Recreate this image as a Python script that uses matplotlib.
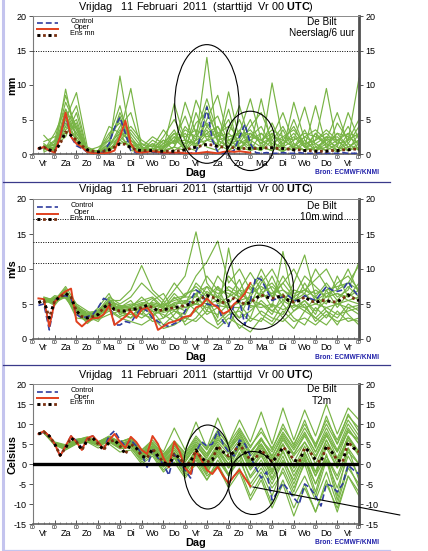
import numpy as np
import matplotlib
matplotlib.use('Agg')
import matplotlib.pyplot as plt
from matplotlib.patches import Ellipse
from matplotlib.lines import Line2D

plt.rcParams['font.family'] = ['Liberation Sans', 'DejaVu Sans']
plt.rcParams['mathtext.fontset'] = 'custom'
plt.rcParams['mathtext.rm'] = 'Liberation Sans'
plt.rcParams['mathtext.bf'] = 'Liberation Sans:bold'
plt.rcParams['axes.unicode_minus'] = False

# ---------------- data ----------------
DAYS = ['Vr', 'Za', 'Zo', 'Ma', 'Di', 'Wo', 'Do', 'Vr', 'Za', 'Zo', 'Ma', 'Di', 'Wo', 'Do', 'Vr']
DAY_EDGES = list(range(0, 361, 24))
TITLE = r'Vrijdag   11 Februari  2011  (starttijd  Vr 00 $\mathbf{UTC}$)'
LEGEND_NAMES = ['Control', 'Oper', 'Ens mn']

# Precipitation (mm / 6h), 6-hourly from +6h
precip_control = [0.7, 1.0, 0.5, 0.3, 2.5, 5.6, 2.5, 1.2, 0.8, 0.3, 0.1, 0.1, 0.3, 1.5, 3.8, 5.3, 3.0, 0.5, 0.2, 0.2,
                  0.3, 0.3, 0.2, 0.1, 0.1, 0.1, 0.1, 0.1, 0.1, 0.3, 3.0, 6.8, 2.0, 0.3, 0.1, 0.2, 0.5, 2.5, 4.3, 1.5,
                  0.2, 0.1, 0.2, 0.1, 0.1, 0.2, 0.1, 0.1, 0.2, 0.1, 0.1, 0.1, 0.2, 0.1, 0.1, 0.1, 0.2, 0.1, 0.1, 0.1]
precip_oper = [0.8, 1.0, 0.5, 0.2, 2.5, 6.0, 2.5, 1.5, 1.0, 0.3, 0.1, 0.1, 0.1, 0.2, 0.5, 2.5, 4.8, 1.5, 0.3, 0.2,
               0.3, 0.4, 0.3, 0.2, 0.2, 0.2, 0.2, 0.1, 0.1, 0.1, 0.2, 0.3, 0.2, 0.1, 0.3, 0.4, 0.3, 0.4, 0.3, 0.2]
precip_mean = [0.8, 1.0, 0.6, 0.4, 1.5, 3.2, 2.7, 2.0, 1.2, 0.6, 0.4, 0.3, 0.4, 0.6, 1.0, 1.5, 1.4, 0.9, 0.6, 0.5,
               0.5, 0.5, 0.4, 0.4, 0.4, 0.4, 0.5, 0.6, 0.8, 1.0, 1.2, 1.4, 1.3, 1.1, 1.0, 1.0, 0.9, 0.8, 0.8, 0.8,
               0.8, 0.8, 0.9, 0.9, 0.8, 0.8, 0.7, 0.6, 0.6, 0.5, 0.5, 0.4, 0.4, 0.4, 0.5, 0.5, 0.6, 0.6, 0.7, 0.7]
# members, 12-hourly from +12h
precip_members = [
    [1.0, 0.5, 9.4, 2.0, 0.3, 0.1, 0.5, 2.0, 1.0, 0.3, 0.5, 0.3, 1.0, 0.5, 2.0, 14.0, 1.5, 0.5, 2.0, 1.0, 0.5, 3.0, 1.0, 0.5, 2.0, 0.5, 1.0, 0.3, 1.0, 2.0],
    [0.8, 2.0, 8.5, 3.5, 0.5, 0.2, 1.0, 11.3, 2.0, 0.5, 0.3, 1.0, 3.0, 1.0, 0.5, 2.0, 4.0, 1.5, 0.5, 2.5, 4.0, 1.0, 0.3, 1.5, 0.5, 3.0, 1.0, 2.0, 0.5, 1.0],
    [1.5, 0.3, 5.0, 8.9, 1.0, 0.3, 0.2, 3.0, 9.5, 1.0, 0.5, 0.8, 7.3, 2.0, 1.0, 3.0, 1.0, 9.0, 2.0, 0.5, 1.0, 0.5, 2.0, 4.0, 1.0, 0.5, 2.5, 0.5, 3.0, 0.5],
    [2.7, 1.0, 4.0, 7.0, 0.4, 0.5, 3.0, 4.5, 1.0, 0.2, 1.5, 0.5, 1.0, 7.5, 3.0, 1.0, 0.5, 2.0, 3.0, 8.0, 2.0, 1.0, 3.5, 0.5, 1.5, 2.0, 9.5, 1.0, 0.5, 3.0],
    [0.5, 3.0, 6.5, 2.5, 0.5, 1.0, 2.0, 5.0, 3.0, 1.0, 0.3, 2.0, 0.5, 1.5, 7.8, 4.0, 2.0, 1.0, 5.0, 1.0, 0.5, 10.3, 2.0, 1.0, 0.5, 1.0, 2.0, 6.0, 1.5, 0.5],
    [1.2, 0.8, 3.5, 5.0, 0.3, 0.3, 1.5, 6.0, 2.5, 0.5, 2.0, 1.0, 2.5, 0.5, 3.0, 8.0, 3.0, 0.5, 1.5, 4.0, 6.0, 2.0, 0.5, 7.5, 2.0, 0.5, 1.5, 0.5, 2.0, 11.0],
    [0.6, 1.5, 7.5, 4.0, 0.2, 0.5, 0.5, 2.5, 4.0, 2.0, 1.0, 3.5, 1.5, 3.0, 1.0, 5.0, 8.5, 2.0, 1.0, 0.5, 3.0, 1.5, 1.0, 2.0, 6.8, 1.0, 0.5, 1.5, 4.0, 1.0],
    [1.0, 0.5, 5.5, 3.0, 0.8, 0.2, 1.0, 3.5, 1.5, 0.5, 0.8, 0.5, 2.0, 1.0, 4.5, 6.0, 2.5, 5.0, 1.0, 2.0, 1.0, 0.5, 1.5, 3.0, 1.0, 7.0, 1.0, 3.0, 1.0, 2.0],
    [0.3, 1.0, 4.5, 2.0, 0.5, 0.5, 2.5, 7.0, 1.0, 1.5, 0.5, 2.5, 5.0, 2.0, 1.5, 3.5, 1.0, 3.0, 7.0, 1.5, 0.5, 2.0, 4.0, 1.0, 3.5, 0.5, 2.0, 1.0, 6.0, 2.0],
    [1.8, 2.5, 3.0, 4.5, 0.2, 0.3, 0.5, 1.5, 2.0, 0.5, 1.5, 0.5, 1.0, 4.0, 2.0, 7.0, 2.0, 1.0, 3.5, 1.0, 8.0, 1.0, 0.5, 1.0, 2.5, 1.5, 0.5, 4.5, 2.0, 5.0],
    [0.9, 0.6, 6.0, 1.5, 0.3, 0.2, 4.0, 3.0, 0.5, 0.3, 0.5, 1.5, 3.5, 0.5, 6.0, 2.0, 1.5, 6.5, 0.5, 3.0, 1.5, 4.5, 1.0, 5.0, 1.0, 3.0, 1.5, 0.5, 1.5, 4.0],
    [1.1, 1.2, 2.5, 6.0, 0.3, 0.4, 1.0, 4.0, 6.0, 0.8, 0.3, 0.8, 2.0, 5.5, 1.0, 4.0, 5.5, 1.5, 2.0, 5.0, 1.0, 2.5, 6.0, 1.5, 0.5, 2.0, 3.5, 2.0, 0.5, 1.5],
    [0.7, 1.8, 5.0, 3.0, 0.4, 0.3, 1.5, 3.0, 2.0, 1.0, 2.5, 1.5, 3.0, 2.5, 3.5, 2.5, 3.0, 4.0, 2.5, 3.0, 2.0, 3.5, 2.5, 2.0, 3.0, 2.5, 1.5, 3.0, 2.5, 1.5],
    [1.3, 0.7, 4.0, 2.5, 0.3, 0.2, 0.8, 2.0, 3.5, 1.5, 1.0, 2.0, 1.5, 3.5, 2.5, 4.5, 2.0, 2.5, 3.0, 2.0, 3.0, 1.5, 2.5, 3.5, 1.5, 2.0, 3.0, 1.5, 2.0, 3.0],
    [0.9, 1.4, 3.0, 4.0, 0.5, 0.4, 2.0, 5.5, 1.5, 0.8, 1.2, 0.8, 2.5, 1.5, 2.0, 3.0, 4.0, 1.0, 2.5, 3.5, 1.5, 2.5, 2.0, 1.0, 2.5, 3.5, 2.0, 2.5, 1.0, 2.0],
    [1.1, 0.9, 6.5, 3.5, 0.6, 0.2, 1.2, 2.5, 1.0, 0.6, 0.8, 1.2, 1.8, 2.0, 1.5, 2.0, 2.5, 3.0, 1.5, 2.5, 2.0, 3.0, 1.5, 2.5, 1.0, 1.5, 2.5, 2.0, 3.0, 2.5],
]

# 10 m wind (m/s)
wind_control = [4.8, 5.0, 1.3, 5.5, 6.0, 6.2, 5.8, 3.5, 3.0, 3.2, 3.5, 4.5, 5.8, 5.5, 2.0, 2.0, 2.5, 2.3, 3.5, 4.5,
                4.0, 3.0, 2.5, 2.0, 1.8, 2.2, 2.5, 4.0, 5.5, 7.0, 6.5, 5.0, 4.8, 4.8, 2.5, 1.8, 5.0, 5.5, 2.0, 5.5,
                8.8, 8.5, 7.0, 5.5, 5.8, 6.0, 6.2, 5.5, 5.5, 6.2, 5.8, 5.5, 6.5, 7.5, 7.0, 6.8, 7.0, 8.2, 7.0, 6.0]
wind_oper = [5.8, 5.7, 1.8, 5.3, 6.2, 6.8, 7.2, 2.5, 1.8, 2.5, 3.0, 3.0, 3.5, 4.8, 2.0, 2.6, 3.2, 4.0, 3.0, 4.2,
             4.5, 3.5, 1.3, 1.8, 2.3, 2.5, 2.8, 3.2, 3.3, 4.5, 4.8, 5.8, 5.0, 4.5, 3.6, 4.0, 5.0, 5.6, 6.5, 8.0]
wind_mean = [5.2, 5.5, 3.0, 5.5, 6.0, 6.5, 6.0, 4.0, 3.2, 3.0, 3.2, 3.5, 4.5, 5.0, 4.2, 4.0, 4.0, 4.2, 4.3, 4.5,
             4.8, 4.5, 4.0, 4.2, 4.3, 4.5, 4.6, 4.8, 5.0, 5.5, 5.8, 6.2, 6.0, 5.5, 5.2, 5.5, 5.8, 5.3, 5.0, 5.2,
             5.8, 6.3, 6.0, 5.8, 6.0, 6.2, 5.5, 5.3, 5.5, 6.0, 5.5, 5.2, 5.5, 5.5, 5.3, 5.3, 5.8, 6.3, 5.8, 5.5]
wind_members = [
    [5.8, 5.0, 7.0, 4.5, 3.5, 4.0, 6.0, 5.0, 6.0, 8.0, 6.5, 5.0, 7.0, 9.0, 15.3, 8.0, 6.0, 9.0, 7.0, 5.0, 8.0, 10.0, 7.0, 6.0, 9.0, 7.5, 6.0, 8.0, 9.0, 7.0],
    [5.0, 6.0, 6.0, 3.5, 2.5, 3.0, 4.0, 3.0, 2.5, 2.0, 3.0, 1.5, 2.0, 3.0, 4.0, 2.5, 1.5, 3.0, 2.0, 1.0, 3.0, 2.0, 4.0, 2.5, 3.0, 2.0, 3.5, 2.5, 3.0, 2.5],
    [6.0, 5.5, 7.5, 5.0, 4.0, 3.0, 5.5, 5.5, 7.0, 10.5, 7.0, 5.5, 8.0, 6.0, 9.0, 11.0, 14.0, 8.0, 10.0, 7.0, 9.0, 6.0, 8.0, 10.0, 7.0, 8.5, 10.0, 7.0, 8.0, 10.5],
    [5.2, 5.8, 6.2, 3.0, 2.8, 4.5, 6.5, 3.5, 3.0, 5.0, 4.0, 2.0, 3.5, 5.5, 4.0, 6.0, 3.0, 13.0, 5.0, 3.0, 7.0, 4.5, 12.5, 5.0, 4.0, 6.0, 4.0, 3.0, 5.0, 4.0],
    [5.6, 4.8, 6.8, 4.2, 3.2, 2.5, 4.5, 4.5, 5.5, 3.5, 5.5, 6.5, 4.0, 3.5, 6.5, 4.0, 7.5, 4.0, 3.0, 6.5, 10.0, 7.0, 5.0, 8.0, 12.0, 6.0, 5.0, 9.0, 6.0, 8.0],
    [5.4, 5.3, 6.5, 4.8, 3.6, 3.8, 5.2, 4.2, 4.0, 4.5, 3.5, 4.0, 6.0, 4.5, 5.0, 7.5, 5.0, 6.0, 8.5, 4.5, 5.0, 3.5, 6.5, 4.0, 5.5, 3.5, 7.0, 4.5, 6.5, 5.5],
    [5.9, 5.6, 7.2, 3.8, 2.6, 3.2, 4.8, 3.8, 3.5, 4.0, 5.0, 3.0, 5.0, 2.0, 3.0, 5.0, 2.5, 4.0, 1.5, 3.0, 2.5, 5.0, 3.0, 1.5, 4.0, 3.0, 2.0, 4.0, 2.5, 3.0],
    [5.3, 5.7, 6.7, 4.3, 3.3, 4.2, 5.5, 4.8, 4.5, 6.0, 4.5, 5.0, 4.5, 6.5, 7.0, 5.5, 9.0, 7.0, 6.0, 8.0, 6.0, 9.0, 5.5, 7.0, 6.5, 10.0, 7.5, 5.5, 7.5, 6.0],
    [5.5, 5.2, 6.0, 4.0, 2.2, 3.5, 4.2, 3.2, 3.8, 3.0, 4.0, 3.5, 2.5, 4.0, 5.5, 3.5, 4.5, 2.0, 4.5, 6.0, 3.5, 2.5, 5.0, 3.0, 2.0, 4.5, 3.0, 5.5, 3.5, 2.0],
    [5.7, 5.4, 6.4, 4.6, 3.4, 3.6, 5.0, 4.4, 4.8, 5.5, 6.0, 4.5, 6.5, 5.0, 8.0, 6.5, 6.0, 5.0, 7.0, 9.5, 7.0, 8.0, 6.0, 5.0, 8.0, 5.5, 6.5, 7.0, 10.0, 6.5],
    [5.1, 5.9, 6.3, 4.1, 3.1, 2.8, 3.5, 4.0, 3.0, 4.0, 2.5, 3.0, 4.0, 3.0, 2.5, 4.0, 3.5, 5.0, 3.0, 4.0, 5.5, 4.0, 3.5, 6.0, 4.5, 3.0, 4.5, 3.5, 4.0, 4.5],
    [5.6, 5.1, 6.9, 4.4, 3.0, 3.4, 4.6, 4.6, 5.0, 4.8, 5.2, 4.8, 5.5, 6.0, 6.0, 9.0, 7.0, 6.5, 5.5, 6.0, 8.5, 6.0, 9.0, 6.5, 7.0, 6.0, 8.0, 6.0, 7.0, 11.0],
    [5.0, 6.2, 5.8, 3.8, 2.8, 3.0, 5.8, 3.5, 4.5, 3.5, 3.0, 5.5, 3.0, 2.5, 4.5, 5.5, 2.0, 3.5, 4.0, 2.5, 4.0, 3.0, 2.5, 4.0, 5.0, 2.5, 4.0, 2.0, 4.5, 3.5],
    [5.8, 5.5, 7.0, 4.6, 3.8, 4.0, 5.3, 4.7, 4.3, 5.0, 5.8, 4.2, 5.2, 5.5, 5.0, 6.8, 5.8, 7.5, 6.5, 5.5, 6.5, 7.5, 6.0, 5.5, 6.5, 5.0, 6.0, 6.5, 5.5, 6.0],
    [5.4, 5.6, 6.6, 4.4, 3.4, 3.8, 5.0, 4.3, 4.6, 5.2, 5.0, 4.6, 5.8, 6.2, 7.5, 6.0, 7.5, 6.0, 7.0, 6.5, 7.5, 6.5, 8.0, 6.0, 7.0, 6.5, 7.0, 7.5, 8.0, 7.0],
    [5.5, 5.2, 6.2, 4.2, 3.1, 3.3, 4.4, 3.9, 4.1, 4.2, 4.3, 3.8, 4.2, 4.5, 5.0, 4.5, 4.8, 4.5, 5.2, 4.8, 4.5, 5.0, 4.2, 4.8, 4.5, 5.0, 4.5, 5.0, 4.5, 4.8],
    [5.3, 5.4, 6.7, 4.0, 3.0, 3.6, 4.9, 4.5, 4.4, 4.7, 4.8, 4.4, 5.0, 5.2, 6.5, 7.5, 6.5, 7.0, 6.0, 7.5, 6.0, 6.5, 7.0, 5.5, 6.0, 7.0, 6.0, 6.5, 6.0, 7.0],
    [5.6, 5.3, 6.3, 4.5, 3.2, 3.5, 4.5, 4.1, 4.3, 4.4, 4.6, 4.0, 4.8, 4.0, 5.5, 5.0, 5.5, 4.5, 4.5, 5.5, 5.0, 4.0, 5.5, 4.5, 5.5, 4.0, 5.5, 5.0, 5.5, 5.0],
]

# 2 m temperature (Celsius)
t2m_control = [7.5, 8.0, 7.0, 5.0, 2.0, 4.5, 7.0, 5.8, 4.0, 6.5, 7.0, 5.5, 3.8, 7.0, 8.3, 6.0, 4.5, 6.0, 4.5, 2.5,
               -0.8, 3.5, 1.5, 0.0, -2.8, 2.5, 0.5, -1.5, -3.5, 3.0, 5.6, 4.5, 5.0, 8.3, 5.0, 3.0, 2.0, 6.0, 5.0, 2.0,
               -1.0, -3.5, -2.0, -9.0, -7.0, -4.8, -6.5, -8.5, -10.0, -5.0, -6.0, -8.0, -10.5, -5.0, -5.5, -7.0, -5.0, -0.3, -1.5, -2.5]
t2m_oper = [7.5, 8.2, 7.0, 5.0, 2.0, 4.5, 7.0, 5.5, 3.5, 6.5, 7.0, 5.5, 3.8, 6.0, 7.5, 5.5, 4.0, 6.8, 5.5, 3.5,
            2.5, 7.0, 5.0, 1.5, -0.8, 5.6, 3.0, -1.0, -2.5, 3.2, 1.0, -1.5, -2.5, -0.7, -3.0, -4.8, -3.0, -1.5, -3.5, -5.5]
t2m_mean = [7.5, 8.0, 7.0, 5.0, 2.2, 4.0, 6.5, 5.5, 3.5, 6.0, 6.5, 5.0, 3.5, 5.5, 6.0, 4.5, 2.5, 5.0, 4.0, 2.0,
            1.5, 3.8, 2.0, 0.5, -0.5, 2.5, 1.5, -0.5, 0.5, 3.5, 1.5, 0.5, 1.0, 4.5, 3.0, 2.0, 3.0, 5.0, 3.0, 1.0,
            1.5, 3.5, 2.0, 0.5, 2.0, 4.2, 3.0, 1.0, 0.5, 4.0, 3.0, 1.0, 0.5, 4.5, 3.0, 1.0, 0.5, 5.5, 4.0, 3.0]
t2m_members = [
    [8.2, 5.3, 4.5, 6.0, 6.8, 5.5, 7.0, 5.5, 6.5, 3.5, 5.5, 2.5, 5.5, 2.5, 6.5, 3.5, 8.0, 5.0, 9.0, 4.5, 8.0, 4.0, 9.0, 5.0, 10.0, 5.0, 11.0, 6.0, 12.0, 9.0],
    [8.0, 4.8, 3.5, 5.0, 5.5, 4.0, 5.0, 3.0, 3.5, 0.0, 2.0, -2.0, 0.5, -3.5, 0.0, -4.0, 1.0, -3.0, 1.0, -5.0, -1.0, -6.0, -2.0, -8.0, -3.0, -9.0, -2.0, -10.0, -1.0, -5.0],
    [7.8, 5.2, 4.2, 5.8, 6.2, 5.5, 6.5, 5.0, 6.0, 3.0, 4.5, 1.5, 4.5, 1.5, 5.5, 2.5, 7.0, 4.0, 6.5, 2.0, 5.0, 1.0, 6.0, 2.0, 5.5, 1.5, 7.0, 3.0, 8.0, 6.0],
    [8.1, 4.9, 3.8, 5.2, 5.8, 4.5, 5.5, 4.0, 4.0, 1.0, 3.0, -0.5, 2.0, -2.0, 2.0, -2.5, 3.0, -1.0, 2.5, -3.0, 1.0, -4.0, 1.0, -4.0, 2.5, -2.0, 4.0, -1.0, 6.0, 2.0],
    [8.3, 5.5, 4.8, 6.2, 6.5, 5.2, 6.3, 4.8, 5.8, 2.8, 5.0, 2.0, 5.0, 1.0, 4.0, -1.0, 2.0, -3.0, 2.0, -6.0, -2.0, -8.0, -1.0, -7.0, 1.0, -5.0, 2.0, -3.0, 4.0, 0.0],
    [7.9, 5.0, 4.0, 5.5, 6.0, 5.0, 6.5, 5.5, 6.5, 3.5, 6.0, 3.0, 9.0, 3.5, 10.5, 4.0, 11.5, 5.0, 11.0, 5.5, 13.0, 5.0, 14.0, 6.0, 13.5, 7.0, 15.0, 7.5, 14.0, 11.0],
    [8.0, 5.1, 4.1, 5.4, 5.7, 4.8, 5.5, 3.8, 4.2, 0.5, 2.5, -1.5, 1.5, -3.0, 1.0, -4.0, 0.0, -5.0, -1.0, -8.0, -3.0, -10.0, -4.0, -11.0, -5.0, -12.0, -4.0, -12.0, -3.0, -7.0],
    [8.2, 4.9, 4.3, 5.7, 6.3, 5.3, 6.2, 4.7, 5.3, 2.3, 4.0, 0.8, 3.5, 0.5, 4.5, 1.5, 6.0, 3.5, 7.5, 3.0, 6.0, 2.0, 7.5, 3.5, 8.0, 3.0, 9.0, 3.5, 10.0, 6.0],
    [7.7, 4.7, 3.7, 5.1, 5.6, 4.6, 5.8, 4.2, 4.6, 1.5, 3.2, 0.0, 2.0, -1.5, 2.5, -1.0, 3.5, 0.0, 4.0, -1.5, 2.0, -2.5, 3.0, -2.0, 3.0, -3.0, 5.0, -1.0, 7.0, 3.0],
    [8.1, 5.2, 4.4, 5.9, 6.4, 5.4, 6.6, 5.2, 5.7, 2.5, 4.3, 1.0, 2.5, -1.5, 1.5, -3.0, -0.5, -6.0, -2.0, -9.0, -4.0, -11.0, -5.0, -13.0, -6.0, -12.0, -5.0, -11.0, -3.0, -8.0],
    [8.0, 5.0, 3.9, 5.3, 6.1, 5.1, 6.1, 4.4, 5.1, 1.8, 3.6, 0.2, 3.5, 0.5, 4.5, 2.0, 5.5, 2.5, 6.0, 1.0, 5.0, 0.5, 6.5, 2.5, 7.0, 2.0, 7.5, 1.5, 8.5, 5.0],
    [7.9, 4.8, 4.2, 5.6, 5.9, 4.9, 5.7, 4.3, 4.7, 1.2, 2.8, -0.8, 1.5, -2.5, 2.5, -1.5, 4.0, 0.0, 5.0, -0.5, 4.0, -1.5, 5.0, -1.0, 4.5, -2.0, 6.0, 0.0, 7.0, 2.0],
    [8.3, 5.4, 4.6, 6.1, 6.6, 5.6, 6.8, 5.6, 6.2, 3.2, 5.2, 2.2, 5.8, 2.8, 7.0, 3.8, 8.5, 4.5, 8.0, 3.0, 6.5, 1.5, 5.0, -1.0, 3.0, -3.0, 2.0, -4.0, 3.0, 0.0],
    [7.8, 4.9, 4.0, 5.4, 5.9, 4.9, 6.0, 4.6, 4.9, 2.0, 3.9, 0.6, 2.5, -1.0, 3.0, -0.5, 4.5, 1.5, 5.0, 0.0, 3.0, -2.0, 3.5, -3.0, 2.0, -5.0, 1.0, -6.0, 2.0, -3.0],
    [8.0, 5.1, 4.3, 5.5, 6.1, 5.0, 6.2, 4.7, 5.2, 2.2, 4.2, 1.2, 4.5, 1.8, 5.0, 1.0, 3.5, -1.0, 4.0, 0.5, 6.0, 3.0, 8.0, 4.0, 9.0, 4.5, 10.0, 5.0, 11.0, 7.0],
    [8.1, 5.0, 4.1, 5.6, 6.0, 5.1, 5.9, 4.5, 5.0, 1.7, 3.5, 0.3, 3.0, -0.5, 3.5, 0.0, 4.5, 1.0, 4.5, -1.0, 2.5, -3.5, 2.0, -5.0, 1.5, -7.0, 2.5, -8.0, 4.0, -4.0],
    [8.0, 5.1, 4.2, 5.6, 6.1, 5.1, 6.2, 4.8, 5.4, 2.4, 4.4, 1.2, 4.0, 1.0, 5.0, 2.0, 6.5, 3.0, 7.0, 2.5, 6.5, 2.0, 7.0, 2.5, 7.5, 3.0, 8.0, 3.0, 9.0, 5.0],
    [7.9, 5.0, 4.0, 5.4, 5.9, 4.9, 5.9, 4.4, 4.9, 1.9, 3.7, 0.4, 2.8, -0.8, 3.5, 0.5, 5.0, 1.0, 5.5, 0.5, 4.5, 0.0, 5.0, 0.5, 5.5, 0.0, 6.0, 1.0, 6.5, 3.0],
    [8.1, 5.2, 4.4, 5.8, 6.3, 5.3, 6.4, 5.0, 5.6, 2.6, 4.6, 1.6, 5.0, 2.0, 6.0, 2.5, 7.5, 3.5, 8.5, 4.0, 9.0, 3.5, 10.0, 4.5, 11.0, 4.0, 12.0, 5.0, 12.5, 8.0],
    [8.0, 4.9, 4.0, 5.3, 5.8, 4.8, 5.8, 4.3, 4.8, 1.6, 3.4, -0.2, 2.5, -1.2, 2.0, -2.0, 2.5, -2.5, 3.0, -3.5, 0.0, -5.0, 0.5, -6.0, 0.0, -8.0, 1.0, -9.0, 0.0, -6.0],
]

# ---------------- style ----------------
C_MEMBER = '#78b445'
C_CONTROL = '#2f3c9e'
C_OPER = '#e0401e'
C_MEAN = '#7a3010'

W, H = 428, 551
fig = plt.figure(figsize=(W / 100, H / 100), dpi=100)
fig.patch.set_facecolor('white')

PX = 0.72  # points per pixel


def panel(rect, members, ctrl, oper, mean, ylim, yticks, ylabel, name2, hlines, ellipses,
          leg_y, zero_line=False, extra_line=None, ylabel_x=-0.047):
    ax = fig.add_axes(rect)
    hm = 12 * np.arange(1, len(members[0]) + 1)
    for m in members:
        ax.plot(hm, m, color=C_MEMBER, lw=0.85, zorder=2)
    h6c = 6 * np.arange(1, len(ctrl) + 1)
    h6o = 6 * np.arange(1, len(oper) + 1)
    h6m = 6 * np.arange(1, len(mean) + 1)
    ax.plot(h6c, ctrl, color=C_CONTROL, lw=1.2, dashes=(3.5, 1.8), zorder=4)
    ax.plot(h6o, oper, color=C_OPER, lw=1.4, zorder=5)
    ax.plot(h6m, mean, color=C_MEAN, lw=2.0, dashes=(1, 1), zorder=6)
    ax.plot(h6m, mean, color='black', lw=2.0, dashes=(1, 3), zorder=6)
    for y in hlines:
        ax.axhline(y, color='black', lw=0.7, dashes=(1, 1.5), zorder=3)
    if zero_line:
        ax.axhline(0, color='black', lw=2.4, zorder=7)

    ax.set_xlim(0, 360)
    ax.set_ylim(*ylim)
    ax.set_yticks(yticks)
    ax.tick_params(axis='y', which='both', direction='out', length=3, width=0.7,
                   labelsize=6.5, left=True, right=True, labelleft=True, labelright=True,
                   pad=1.5, color='#555555')
    ax.set_xticks(DAY_EDGES)
    ax.set_xticklabels(['00'] * len(DAY_EDGES))
    ax.set_xticks(np.arange(0, 361, 6), minor=True)
    ax.tick_params(axis='x', which='major', direction='in', length=3, width=0.7,
                   labelsize=3.6, pad=0.8, color='#555555')
    ax.tick_params(axis='x', which='minor', direction='in', length=1.5, width=0.5, color='#555555')
    ax.spines['left'].set_color('#7a7a7a'); ax.spines['left'].set_linewidth(0.8)
    ax.spines['right'].set_color('#505050'); ax.spines['right'].set_linewidth(2.0)
    ax.spines['top'].set_color('#8a8a8a'); ax.spines['top'].set_linewidth(0.7)
    ax.spines['bottom'].set_color('#606060'); ax.spines['bottom'].set_linewidth(1.2)

    for i, d in enumerate(DAYS):
        ax.annotate(d, xy=(12 + 24 * i, 0), xycoords=('data', 'axes fraction'),
                    xytext=(0, -9 * PX), textcoords='offset points',
                    ha='center', va='center', fontsize=6.6)
    ax.annotate('Dag', xy=(0.5, 0), xycoords='axes fraction', xytext=(0, -18.5 * PX),
                textcoords='offset points', ha='center', va='center', fontsize=7.8,
                fontweight='bold')
    ax.annotate('Bron: ECMWF/KNMI', xy=(0.962, 0), xycoords='axes fraction',
                xytext=(0, -18.5 * PX), textcoords='offset points', ha='center', va='center',
                fontsize=4.8, fontweight='bold', color='#2222aa')
    ax.annotate(TITLE, xy=(0.5, 1), xycoords='axes fraction', xytext=(0, 9.5 * PX),
                textcoords='offset points', ha='center', va='center', fontsize=7.8)
    ax.set_ylabel(ylabel, fontsize=7.8, fontweight='bold', labelpad=0)
    ax.yaxis.set_label_coords(ylabel_x, 0.5)

    ax.text(0.885, leg_y[3], 'De Bilt', transform=ax.transAxes, ha='center', va='center', fontsize=7.2, zorder=8)
    ax.text(0.885, leg_y[4], name2, transform=ax.transAxes, ha='center', va='center', fontsize=7.2, zorder=8)

    styles = [dict(color=C_CONTROL, lw=1.2, dashes=(3.5, 1.8)),
              dict(color=C_OPER, lw=1.4),
              dict(color=C_MEAN, lw=2.0, dashes=(1, 1))]
    for k, (nm, st) in enumerate(zip(LEGEND_NAMES, styles)):
        ax.add_line(Line2D([0.011, 0.078], [leg_y[k], leg_y[k]], transform=ax.transAxes, zorder=8, **st))
        if k == 2:
            ax.add_line(Line2D([0.011, 0.078], [leg_y[k], leg_y[k]], transform=ax.transAxes,
                               color='black', lw=2.0, dashes=(1, 3), zorder=8))
        ax.text(0.150, leg_y[k] + 0.008, nm, transform=ax.transAxes, ha='center', va='center',
                fontsize=5.2, zorder=8)

    for (cx, cy, ew, eh) in ellipses:
        ax.add_patch(Ellipse((cx, cy), ew, eh, fill=False, edgecolor='black', lw=0.8,
                             clip_on=False, zorder=9))
    if extra_line is not None:
        ax.add_line(Line2D(extra_line[0], extra_line[1], color='black', lw=0.8, clip_on=False, zorder=9))
    return ax


ax1 = panel([33 / W, 1 - 154 / H, 326 / W, 138 / H], precip_members, precip_control, precip_oper, precip_mean,
            (0, 20), [0, 5, 10, 15, 20], 'mm', 'Neerslag/6 uur', [15],
            [(192, 7.25, 71, 17.2), (240, 1.9, 54, 8.6)],
            [0.949, 0.906, 0.862, 0.957, 0.877], ylabel_x=-0.047)

ax2 = panel([33 / W, 1 - 339 / H, 326 / W, 140 / H], wind_members, wind_control, wind_oper, wind_mean,
            (0, 20), [0, 5, 10, 15, 20], 'm/s', '10m wind', [10.8, 13.9, 17.2],
            [(250, 7.4, 75, 12.0)],
            [0.945, 0.895, 0.855, 0.950, 0.871], ylabel_x=-0.047)

ax3 = panel([33 / W, 1 - 524 / H, 326 / W, 140 / H], t2m_members, t2m_control, t2m_oper, t2m_mean,
            (-15, 20), [-15, -10, -5, 0, 5, 10, 15, 20], 'Celsius', 'T2m', [],
            [(193, -0.75, 53, 21.0), (243, -4.75, 55, 15.75)],
            [0.945, 0.898, 0.857, 0.964, 0.878], zero_line=True,
            extra_line=([243, 405], [-5.75, -12.75]), ylabel_x=-0.049)

fig.add_artist(Line2D([3.5 / W, 3.5 / W], [0, 1], transform=fig.transFigure, color='#c4c4ee', lw=2.2))
for yy, col in [(182, '#3a3a8a'), (365, '#3a3a8a'), (549.5, '#c4c4ee')]:
    fig.add_artist(Line2D([3.5 / W, 390 / W], [1 - yy / H, 1 - yy / H], transform=fig.transFigure,
                          color=col, lw=0.9))

fig.savefig('out.png', dpi=100)
